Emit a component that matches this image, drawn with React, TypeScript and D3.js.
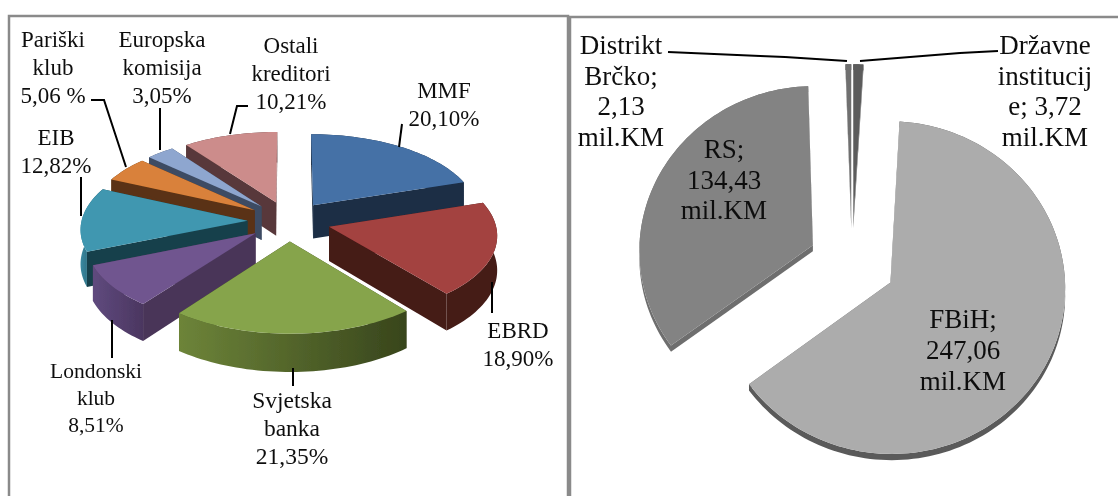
import React from 'react';
import * as d3 from 'd3';

const creditors = ['MMF', 'EBRD', 'Svjetska banka', 'Londonski klub', 'EIB', 'Pariški klub', 'Europska komisija', 'Ostali kreditori'];
const creditorShares = [20.10, 18.90, 21.35, 8.51, 12.82, 5.06, 3.05, 10.21];
const creditorExplode = [0.25, 0.25, 0.25, 0.25, 0.25, 0.25, 0.25, 0.25];

const entities = ['Državne institucije', 'FBiH', 'RS', 'Distrikt Brčko'];
const entityValues = [3.72, 247.06, 134.43, 2.13];
const entityExplode = [0.25, 0.25, 0.25, 0.25];

const leftTop = ['#4571a6', '#a34240', '#86a44c', '#70558f', '#3f97b0', '#d9813a', '#8ea6cf', '#cc8c8b'];
const leftRadial = ['#1b2d44', '#451b18', '#3a451e', '#4a3659', '#19404b', '#5a3213', '#3d4b63', '#59393a'];
const leftOuterA = ['#1b2d44', '#451b18', '#6d8439', '#5f4a7e', '#3a8aa2', '#5a3213', '#3d4b63', '#59393a'];
const leftOuterB = ['#1b2d44', '#451b18', '#38451c', '#4b3660', '#19404b', '#5a3213', '#3d4b63', '#59393a'];

const rightTop = ['#5c5c5c', '#acacac', '#838383', '#707070'];
const rightRadial = ['#505050', '#707070', '#6e6e6e', '#505050'];
const rightOuterA = ['#505050', '#5a5a5a', '#6e6e6e', '#505050'];
const rightOuterB = ['#505050', '#5a5a5a', '#6e6e6e', '#505050'];

type Geo = { cx: number; cy: number; rx: number; ry: number; kx: number; ky: number; depth: number };
const leftGeo: Geo = { cx: 289, cy: 221, rx: 166, ry: 80, kx: 0.09, ky: 0.09, depth: 34 };
const rightGeo: Geo = { cx: 852, cy: 263, rx: 174, ry: 165, kx: 0.03, ky: 0.03, depth: 6 };

const lineGen = d3.line<[number, number]>();

function Pie3D({ id, values, explode, geo, top, radial, outerA, outerB }: {
  id: string; values: number[]; explode: number[]; geo: Geo;
  top: string[]; radial: string[]; outerA: string[]; outerB: string[];
}) {
  const arcs = d3.pie<number>().sort(null).value((d) => d)(values);
  const items = arcs.map((a, i) => {
    const mid = (a.startAngle + a.endAngle) / 2;
    const e = explode[i];
    const P = (ang: number, r: number, z: number): [number, number] => {
      const X = Math.sin(ang) * r + e * Math.sin(mid);
      const Y = -Math.cos(ang) * r - e * Math.cos(mid);
      const sx = 1 / (1 - geo.kx * Y);
      const sy = 1 / (1 - geo.ky * Y);
      return [geo.cx + geo.rx * X * sx, geo.cy + geo.ry * Y * sy + z * geo.depth * sy];
    };
    const n = Math.max(4, Math.ceil((a.endAngle - a.startAngle) / 0.03));
    const angs = d3.range(n + 1).map((j) => a.startAngle + ((a.endAngle - a.startAngle) * j) / n);
    const topArc = angs.map((t) => P(t, 1, 0));
    const botArc = angs.map((t) => P(t, 1, 1)).reverse();
    const apex = P(0, 0, 0);
    const apexB = P(0, 0, 1);
    return {
      i,
      order: -Math.cos(mid),
      top: lineGen([apex, ...topArc])! + 'Z',
      w1: lineGen([apex, topArc[0], P(a.startAngle, 1, 1), apexB])! + 'Z',
      w2: lineGen([apex, topArc[n], P(a.endAngle, 1, 1), apexB])! + 'Z',
      outer: lineGen([...topArc, ...botArc])! + 'Z',
    };
  });
  const sorted = [...items].sort((a, b) => a.order - b.order);
  return (
    <g>
      <defs>
        {items.map((it) => (
          <linearGradient key={it.i} id={`${id}o${it.i}`}>
            <stop offset="0" stopColor={outerA[it.i]} />
            <stop offset="1" stopColor={outerB[it.i]} />
          </linearGradient>
        ))}
      </defs>
      {sorted.map((it) => (
        <g key={it.i}>
          <path d={it.w1} fill={radial[it.i]} />
          <path d={it.w2} fill={radial[it.i]} />
          <path d={it.outer} fill={`url(#${id}o${it.i})`} />
          <path d={it.top} fill={top[it.i]} />
        </g>
      ))}
    </g>
  );
}

const leaders: [number, number][][] = [
  [[399, 147], [402, 124]],
  [[230, 134], [237, 106], [248, 106]],
  [[160, 150], [160, 108]],
  [[126, 167], [104, 100], [91, 100]],
  [[81, 216], [81, 177]],
  [[112, 320], [112, 358]],
  [[293, 368], [293, 386]],
  [[492, 282], [492, 313]],
  [[847, 61], [785, 57], [668, 52]],
  [[860, 61], [960, 53], [998, 51]],
];

const labels: { x: number; y: number; size: number; pitch: number; lines: string[] }[] = [
  { x: 53, y: 47, size: 23, pitch: 28, lines: ['Pariški', 'klub', '5,06 %'] },
  { x: 162, y: 47, size: 23, pitch: 28, lines: ['Europska', 'komisija', '3,05%'] },
  { x: 291, y: 53, size: 23, pitch: 28, lines: ['Ostali', 'kreditori', '10,21%'] },
  { x: 444, y: 98, size: 23, pitch: 28, lines: ['MMF', '20,10%'] },
  { x: 56, y: 145, size: 23, pitch: 28, lines: ['EIB', '12,82%'] },
  { x: 518, y: 338, size: 23, pitch: 28, lines: ['EBRD', '18,90%'] },
  { x: 292, y: 408, size: 23.5, pitch: 28, lines: ['Svjetska', 'banka', '21,35%'] },
  { x: 96, y: 378, size: 21.5, pitch: 27, lines: ['Londonski', 'klub', '8,51%'] },
  { x: 621, y: 54, size: 27, pitch: 30.5, lines: ['Distrikt', 'Brčko;', '2,13', 'mil.KM'] },
  { x: 1045, y: 54, size: 27, pitch: 30.5, lines: ['Državne', 'institucij', 'e; 3,72', 'mil.KM'] },
  { x: 724, y: 158, size: 27, pitch: 30.5, lines: ['RS;', '134,43', 'mil.KM'] },
  { x: 963, y: 328, size: 27, pitch: 31, lines: ['FBiH;', '247,06', 'mil.KM'] },
];

export default function App() {
  return (
    <svg width={1118} height={496} style={{ position: 'fixed', left: 0, top: 0, background: '#fff' }}>
      <defs>
        <filter id="soft" x="0" y="0" width="100%" height="100%" filterUnits="objectBoundingBox">
          <feGaussianBlur stdDeviation="0.45" />
        </filter>
      </defs>
      <g filter="url(#soft)">
        <rect x={0} y={0} width={1118} height={496} fill="#fff" />
        <rect x={9} y={16} width={559} height={500} fill="none" stroke="#8a8a8a" strokeWidth={2.5} />
        <rect x={570} y={17} width={560} height={500} fill="none" stroke="#8a8a8a" strokeWidth={2.5} />
        <Pie3D id="l" values={creditorShares} explode={creditorExplode} geo={leftGeo}
          top={leftTop} radial={leftRadial} outerA={leftOuterA} outerB={leftOuterB} />
        <Pie3D id="r" values={entityValues} explode={entityExplode} geo={rightGeo}
          top={rightTop} radial={rightRadial} outerA={rightOuterA} outerB={rightOuterB} />
        {leaders.map((pts, i) => (
          <path key={i} d={lineGen(pts)!} fill="none" stroke="#000" strokeWidth={2} />
        ))}
        {labels.map((l, i) => (
          <text key={i} textAnchor="middle" fontFamily="'Liberation Serif', serif" fontSize={l.size} fill="#111">
            {l.lines.map((t, j) => (
              <tspan key={j} x={l.x} y={l.y + j * l.pitch}>{t}</tspan>
            ))}
          </text>
        ))}
      </g>
    </svg>
  );
}
